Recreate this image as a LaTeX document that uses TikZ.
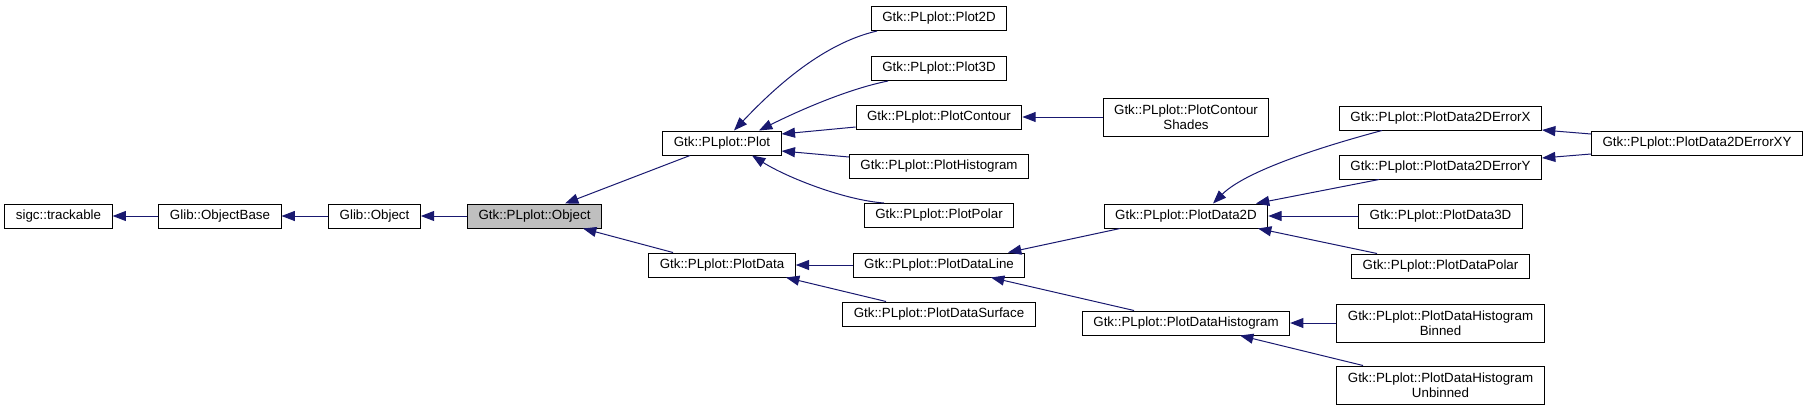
\documentclass[tikz,border=0pt]{standalone}
\usepackage{fontspec}
\setmainfont{Liberation Sans}
\usetikzlibrary{arrows.meta,calc}
\definecolor{edgeblue}{HTML}{191970}
\definecolor{hlgray}{HTML}{BFBFBF}

\begin{document}
\begin{tikzpicture}[x=0.75pt,y=-0.75pt,
    cls/.style={draw=black, line width=0.75pt, fill=white, inner xsep=8.25pt, inner ysep=2pt,
        minimum height=18pt, font=\fontsize{10}{11}\selectfont, align=center},
    tall/.style={cls, minimum height=28.5pt},
    inh/.style={draw=edgeblue, line width=0.75pt, -{Triangle[length=10pt,width=7.5pt]}}]
        \useasboundingbox (0,0) rectangle (1808,411);
        \fill[white] (0,0) rectangle (1808,411);

        % Base classes
        \node[cls] (trackable) at (58.5,216) {sigc::trackable};
        \node[cls] (objectbase) at (220,216) {Glib::ObjectBase};
        \node[cls] (globject) at (374.5,216) {Glib::Object};
        \node[cls, fill=hlgray] (plobject) at (534.5,216) {Gtk::PLplot::Object};

        % Direct subclasses
        \node[cls] (plot) at (722,143) {Gtk::PLplot::Plot};
        \node[cls] (plotdata) at (722,265) {Gtk::PLplot::PlotData};

        % Plot types
        \node[cls] (plottwod) at (939,18.5) {Gtk::PLplot::Plot2D};
        \node[cls] (plotthreed) at (939,68.5) {Gtk::PLplot::Plot3D};
        \node[cls] (contour) at (939,117) {Gtk::PLplot::PlotContour};
        \node[cls] (histogram) at (939,166) {Gtk::PLplot::PlotHistogram};
        \node[cls] (polar) at (939,215.5) {Gtk::PLplot::PlotPolar};
        \node[cls] (dataline) at (939,265) {Gtk::PLplot::PlotDataLine};
        \node[cls] (surface) at (939,314) {Gtk::PLplot::PlotDataSurface};

        % Third level
        \node[tall] (shades) at (1186,117) {Gtk::PLplot::PlotContour\\Shades};
        \node[cls] (datatwod) at (1186,216) {Gtk::PLplot::PlotData2D};
        \node[cls] (datahist) at (1186,323) {Gtk::PLplot::PlotDataHistogram};

        % Fourth level
        \node[cls] (errorx) at (1440.5,118) {Gtk::PLplot::PlotData2DErrorX};
        \node[cls] (errory) at (1440.5,167) {Gtk::PLplot::PlotData2DErrorY};
        \node[cls] (datathreed) at (1440.5,216) {Gtk::PLplot::PlotData3D};
        \node[cls] (datapolar) at (1440.5,266) {Gtk::PLplot::PlotDataPolar};
        \node[tall] (binned) at (1440.5,323) {Gtk::PLplot::PlotDataHistogram\\Binned};
        \node[tall] (unbinned) at (1440.5,385) {Gtk::PLplot::PlotDataHistogram\\Unbinned};
        \node[cls] (errorxy) at (1697,143) {Gtk::PLplot::PlotData2DErrorXY};

        % Inheritance arrows (child -> parent)
        \draw[inh] (objectbase) -- (trackable);
        \draw[inh] (globject) -- (objectbase);
        \draw[inh] (plobject) -- (globject);
        \draw[inh] ($(plot.south)+(-32,0)$) -- ($(plobject.north)+(30.5,0)$);
        \draw[inh] ($(plotdata.north)+(-49,0)$) -- ($(plobject.south)+(48.5,0)$);

        \draw[inh] ($(plottwod.south)+(-62,0)$) .. controls +(-57,13) and +(36,-38) .. ($(plot.north)+(12,0)$);
        \draw[inh] ($(plotthreed.south)+(-51,0)$) .. controls +(-40,8) and +(40,-20) .. ($(plot.north)+(37,0)$);
        \draw[inh] ($(contour.west)+(0,10)$) -- ($(plot.east)+(0,-9)$);
        \draw[inh] ($(histogram.west)+(0,-9)$) -- ($(plot.east)+(0,8)$);
        \draw[inh] ($(polar.north)+(-55,0)$) .. controls +(-40,-3) and +(35,22) .. ($(plot.south)+(30,0)$);
        \draw[inh] (dataline) -- (plotdata);
        \draw[inh] ($(surface.north)+(-53,0)$) -- ($(plotdata.south)+(64,0)$);

        \draw[inh] (shades) -- (contour);
        \draw[inh] ($(datatwod.south)+(-66,0)$) -- ($(dataline.north)+(69,0)$);
        \draw[inh] ($(datahist.north)+(-52,0)$) -- ($(dataline.south)+(52,0)$);

        \draw[inh] ($(errorx.south)+(-58.5,0)$) .. controls +(-45,12) and +(35,-35) .. ($(datatwod.north)+(27,0)$);
        \draw[inh] ($(errory.south)+(-61.5,0)$) -- ($(datatwod.north)+(70,0)$);
        \draw[inh] (datathreed) -- (datatwod);
        \draw[inh] ($(datapolar.north)+(-63.5,0)$) -- ($(datatwod.south)+(72,0)$);
        \draw[inh] (binned) -- (datahist);
        \draw[inh] ($(unbinned.north)+(-77.5,0)$) -- ($(datahist.south)+(54,0)$);

        \draw[inh] ($(errorxy.west)+(0,-9)$) -- ($(errorx.east)+(0,12)$);
        \draw[inh] ($(errorxy.west)+(0,11)$) -- ($(errory.east)+(0,-9)$);
    \end{tikzpicture}
\end{document}
